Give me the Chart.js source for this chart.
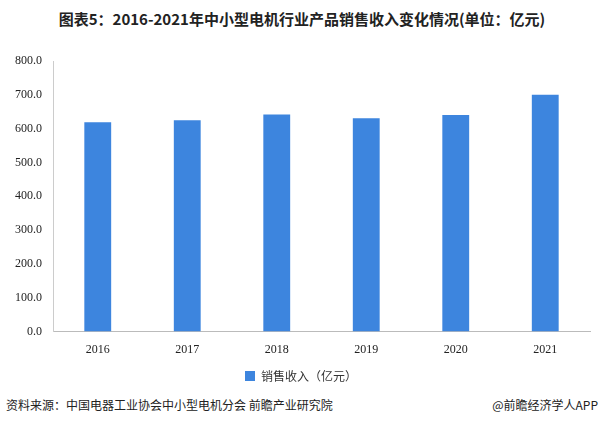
<!DOCTYPE html>
<html><head><meta charset="utf-8">
<script src="https://cdn.jsdelivr.net/npm/chart.js@4"></script>
<style>
body{margin:0;width:604px;height:423px;background:#fff;font-family:"Noto Sans CJK SC",sans-serif;position:relative;overflow:hidden}
#t{position:absolute;top:8px;left:0;width:604px;text-align:center;font-weight:bold;font-size:15px;color:#222}
#c{position:absolute;left:0;top:44px;width:604px;height:348px}
#f1{position:absolute;left:6px;top:396px;font-size:12px;color:#222}
#f2{position:absolute;right:6px;top:396px;font-size:12px;color:#222}
</style></head><body>
<div id="t">图表5：2016-2021年中小型电机行业产品销售收入变化情况(单位：亿元)</div>
<div id="c"><canvas id="cv"></canvas></div>
<div id="f1">资料来源：中国电器工业协会中小型电机分会 前瞻产业研究院</div>
<div id="f2">@前瞻经济学人APP</div>
<script>
const categories=["2016","2017","2018","2019","2020","2021"];
const values=[619,625,642,631,640,700];
const seriesName="销售收入（亿元）";
new Chart(document.getElementById('cv'),{type:'bar',
data:{labels:categories,datasets:[{label:seriesName,data:values,backgroundColor:'#3d85de',barPercentage:0.3,categoryPercentage:1}]},
options:{responsive:true,maintainAspectRatio:false,animation:false,
layout:{padding:{left:12,right:14,top:17}},
plugins:{legend:{position:'bottom',labels:{boxWidth:10,boxHeight:10,color:'#333',font:{size:12,family:'"Noto Sans CJK SC"'}}},tooltip:{enabled:false}},
scales:{x:{grid:{display:false},border:{color:'#bbb'},ticks:{color:'#222',font:{size:12,family:'"Liberation Serif"'}}},
y:{min:0,max:800,ticks:{stepSize:100,color:'#222',callback:v=>v.toFixed(1),font:{size:12,family:'"Liberation Serif"'}},grid:{display:false},border:{color:'#ccc'}}}}});
</script></body></html>
